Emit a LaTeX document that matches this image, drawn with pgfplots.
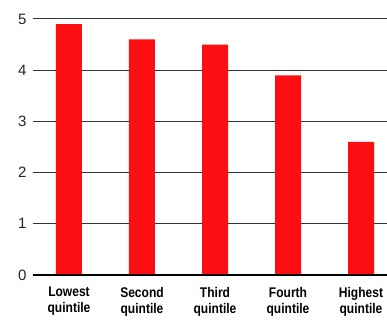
\documentclass[border=0pt]{standalone}
\usepackage{pgfplots}
\pgfplotsset{compat=1.18}
\usepackage{fontspec}
\setmainfont{Liberation Sans}
\newfontfamily\catfont[FakeStretch=0.86]{Liberation Sans Bold}
\definecolor{barred}{RGB}{252,14,19}
\begin{document}
\begin{tikzpicture}
\useasboundingbox (0,0) rectangle (387pt,-320pt);
\begin{axis}[
  at={(33pt,-19pt)}, anchor=north west,
  scale only axis, width=354pt, height=256pt,
  xmin=-0.493, xmax=4.356, ymin=0, ymax=5,
  axis line style={draw=none},
  ytick={0,1,2,3,4,5},
  xtick={0,1,2,3,4},
  xticklabels={},
  ymajorgrids, major grid style={black!80, line width=1pt},
  major tick length=0pt,
  tick label style={font=\fontsize{15}{15}\selectfont, text=black!85},
  yticklabel style={anchor=east, xshift=-3pt},
  /pgf/number format/assume math mode=true,
  clip=false,
]
\addplot[ybar, bar width=26pt, fill=barred, draw=none] coordinates {(0,4.9) (1,4.6) (2,4.5) (3,3.9) (4,2.6)};
\draw[black, line width=2.5pt] (axis cs:-0.493,0) -- (axis cs:4.356,0);
\foreach \i/\l in {0/Lowest,1/Second,2/Third,3/Fourth,4/Highest}{
  \edef\tmp{\noexpand\node[anchor=north, align=center, font=\noexpand\catfont\noexpand\fontsize{14}{16}\noexpand\selectfont, inner sep=0pt] at (axis cs:\i,0) [yshift=-12pt] {\l\\quintile};}
  \tmp
}
\end{axis}
\end{tikzpicture}
\end{document}
